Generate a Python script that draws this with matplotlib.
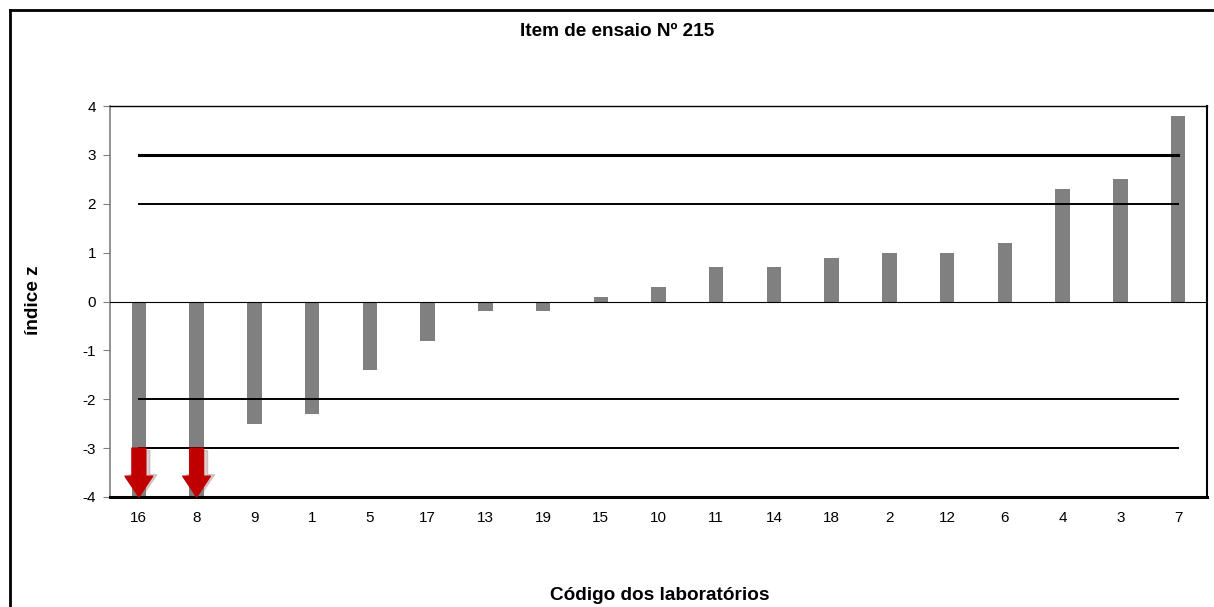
import numpy as np
import matplotlib.pyplot as plt
from matplotlib.lines import Line2D

plt.rcParams['font.family'] = ['Liberation Sans', 'DejaVu Sans']
plt.rcParams['axes.unicode_minus'] = False

labs = ['16', '8', '9', '1', '5', '17', '13', '19', '15', '10',
        '11', '14', '18', '2', '12', '6', '4', '3', '7']
z = [-4.0, -4.0, -2.5, -2.3, -1.4, -0.8, -0.2, -0.2, 0.1, 0.3,
     0.7, 0.7, 0.9, 1.0, 1.0, 1.2, 2.3, 2.5, 3.8]
limits = [3, 2, -2, -3]
out_low = ['16', '8']

fig = plt.figure(figsize=(12.14, 6.07), dpi=100)
ax = fig.add_axes([110/1214, 1 - 497/607, 1097/1214, 391/607])

x = np.arange(len(labs))
ax.bar(x, z, width=0.25, color='#808080', zorder=2)
ax.axhline(0, color='black', lw=0.8, zorder=3)

# limit lines |z| = 2 and 3
for lim in limits:
    lw = 2.2 if lim == 3 else 1.4
    ax.plot([x[0], x[-1]], [lim, lim], color='black', lw=lw, zorder=3)

# arrows for results below the scale
style = 'simple,head_length=15,head_width=20,tail_width=10'
for lab in out_low:
    i = labs.index(lab)
    ax.annotate('', xy=(i + 0.07, -3.97), xytext=(i + 0.07, -3.05),
                arrowprops=dict(arrowstyle=style, mutation_scale=1, color='#9a7a7a',
                                alpha=0.35, shrinkA=0, shrinkB=0), zorder=4)
    ax.annotate('', xy=(i, -4.0), xytext=(i, -3.0),
                arrowprops=dict(arrowstyle=style, mutation_scale=1, color='#c00000',
                                shrinkA=0, shrinkB=0), zorder=5)

ax.set_xlim(-0.5, len(labs) - 0.5)
ax.set_ylim(-4, 4)
ax.set_yticks(range(-4, 5))
ax.set_xticks(x)
ax.set_xticklabels(labs)
ax.tick_params(axis='x', length=0, pad=10, labelsize=11)
ax.tick_params(axis='y', length=5, color='#808080', pad=5, labelsize=11)

ax.spines['left'].set_color('#808080')
ax.spines['left'].set_linewidth(1.2)
ax.spines['bottom'].set_linewidth(2.2)
ax.spines['top'].set_linewidth(1.0)
ax.spines['right'].set_linewidth(1.5)

fig.text(617/1214, 1 - 31/607, 'Item de ensaio Nº 215', ha='center', va='center',
         fontsize=13.7, fontweight='bold')
fig.text(660/1214, 1 - 595/607, 'Código dos laboratórios', ha='center', va='center',
         fontsize=13.7, fontweight='bold')
fig.text(33/1214, 1 - 300/607, 'índice z', ha='center', va='center', rotation=90,
         fontsize=13.7, fontweight='bold')

# outer chart frame
fig.add_artist(Line2D([10/1214, 10/1214], [0, 1 - 10/607], color='black', lw=2,
                      transform=fig.transFigure))
fig.add_artist(Line2D([10/1214, 1], [1 - 10/607, 1 - 10/607], color='black', lw=2,
                      transform=fig.transFigure))

fig.savefig('out.png', dpi=100)
